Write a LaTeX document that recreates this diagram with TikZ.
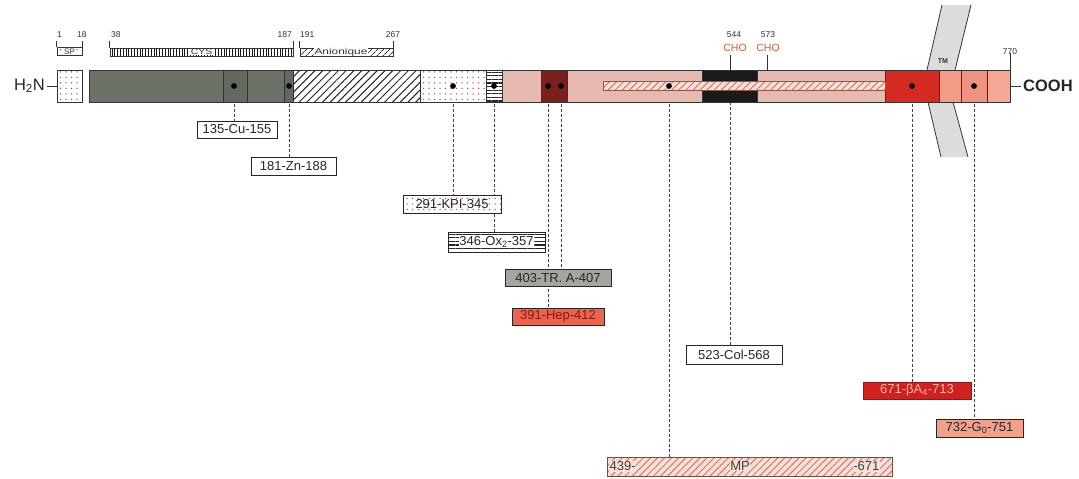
\documentclass[tikz,border=0pt]{standalone}
\usepackage{fontspec}
\setmainfont{Liberation Sans}
\usetikzlibrary{patterns.meta,backgrounds}
\definecolor{segGrey}{HTML}{6C7268}
\definecolor{segGreyD}{HTML}{646960}
\definecolor{segPink}{HTML}{E6B9B1}
\definecolor{segDarkRed}{HTML}{7B1F1C}
\definecolor{segBlack}{HTML}{1A1A1A}
\definecolor{segRed}{HTML}{D42A22}
\definecolor{salmonA}{HTML}{F29C88}
\definecolor{salmonB}{HTML}{EF9282}
\definecolor{salmonC}{HTML}{F5A894}
\definecolor{hepRed}{HTML}{E9634D}
\definecolor{hepText}{HTML}{8B1A10}
\definecolor{betaRed}{HTML}{D02020}
\definecolor{betaText}{HTML}{F5B5A5}
\definecolor{goSalmon}{HTML}{F2A08A}
\definecolor{traGrey}{HTML}{A3A59F}
\definecolor{choRed}{HTML}{D9583E}
\definecolor{mpBg}{HTML}{F8E0D8}
\definecolor{mpLine}{HTML}{D07A66}
\definecolor{tmGrey}{HTML}{DCDCDC}
\definecolor{dotRed}{HTML}{9A5A55}
\begin{document}
\begin{tikzpicture}[x=1pt,y=-1pt,
  seg/.style={draw=black!80, line width=0.7pt, rectangle, inner sep=0pt, outer sep=0pt, minimum height=32pt, anchor=west},
  dotn/.style={circle, fill=black, inner sep=0pt, minimum size=5.8pt},
  conn/.style={draw=black!75, densely dashed, line width=0.75pt},
  tickline/.style={draw=black!80, line width=0.6pt},
  lbl/.style={draw=black!85, line width=0.8pt, rectangle, inner sep=0pt, outer sep=0pt, font=\fontsize{13}{15}\selectfont, text=black!85},
  num/.style={font=\fontsize{8.5}{9}\selectfont, text=black!80, inner sep=0pt},
  hatchpat/.style={pattern={Lines[angle=45,distance=5.5pt,line width=1pt]}, pattern color=black!85},
  dotpat/.style={pattern={Dots[distance=5.5pt,radius=0.75pt]}, pattern color=black!60},
  hstripe/.style={pattern={Lines[angle=0,distance=3.6pt,line width=1.1pt]}, pattern color=black!85},
  vstripe/.style={pattern={Lines[angle=90,distance=2.8pt,line width=0.9pt]}, pattern color=black!90},
  mppat/.style={pattern={Lines[angle=45,distance=5pt,line width=1pt]}, pattern color=mpLine}
]
\useasboundingbox (0,0) rectangle (1079,479);

% ---- transmembrane band (behind the bar)
\fill[tmGrey] (942,5) -- (927,70) -- (928,102) -- (941,157) -- (968,157) -- (953,102) -- (955,70) -- (971,5) -- cycle;
\draw[line width=0.8pt, black!80] (942,5) -- (927,70) -- (928,102) -- (941,157);
\draw[line width=0.8pt, black!80] (971,5) -- (955,70) -- (953,102) -- (968,157);
\node[font=\bfseries\fontsize{7}{8}\selectfont, text=black!80, inner sep=0pt] (tm) at (943,61) {TM};

% ---- main bar segments
\node[seg, preaction={fill=white}, dotpat, minimum width=25pt] (spseg) at (57,86) {};
\node[seg, fill=segGrey, minimum width=134pt] (g1) at (89,86) {};
\node[seg, fill=segGreyD, minimum width=24pt] (g2) at (223,86) {};
\node[seg, fill=segGrey, minimum width=37pt] (g3) at (247,86) {};
\node[seg, fill=segGreyD, minimum width=9pt] (g4) at (284,86) {};
\node[seg, preaction={fill=white}, hatchpat, minimum width=127pt] (an) at (293,86) {};
\node[seg, preaction={fill=white}, dotpat, pattern color=dotRed, minimum width=66pt] (kpi) at (420,86) {};
\node[seg, preaction={fill=white}, hstripe, minimum width=16pt] (ox) at (486,86) {};
\node[seg, fill=segPink, minimum width=39pt] (p1) at (502,86) {};
\node[seg, fill=segDarkRed, minimum width=26pt] (dr) at (541,86) {};
\node[seg, fill=segPink, minimum width=135pt] (p2) at (567,86) {};
\node[seg, fill=segBlack, minimum width=55pt] (bk) at (702,86) {};
\node[seg, fill=segPink, minimum width=128pt] (p3) at (757,86) {};
\node[seg, fill=segRed, minimum width=54pt] (rd) at (885,86) {};
\node[seg, fill=salmonA, minimum width=22pt] (s1) at (939,86) {};
\node[seg, fill=salmonB, minimum width=26pt] (s2) at (961,86) {};
\node[seg, fill=salmonC, minimum width=23pt] (s3) at (987,86) {};
% MP strip inside the bar
\node[seg, minimum height=9pt, minimum width=282pt, draw=mpLine!70!black, line width=0.6pt,
  preaction={fill=mpBg}, mppat] (mpstrip) at (603,85.5) {};

% ---- termini
\node[font=\fontsize{16.5}{18}\selectfont, text=black!85, anchor=east, inner sep=0pt] (h2n) at (45,86) {H\textsubscript{2}N};
\draw[tickline, line width=0.8pt] ([xshift=2pt]h2n.east) -- (spseg.west);
\node[font=\bfseries\fontsize{16.5}{18}\selectfont, text=black!85, anchor=west, inner sep=0pt] (cooh) at (1023,86) {COOH};
\draw[tickline, line width=0.8pt] (s3.east) -- ([xshift=-2pt]cooh.west);

% ---- top annotations
\node[num, anchor=west] (n1) at (57,35) {1};
\node[num, anchor=west] (n18) at (77,35) {18};
\node[draw=black!80, line width=0.6pt, preaction={fill=white}, dotpat, minimum width=25pt, minimum height=8pt, inner sep=0pt] (spbox) at (69.5,51.5) {};
\node[font=\fontsize{8}{8}\selectfont, fill=white, inner sep=0.4pt, text=black!80] at (spbox) {SP};
\draw[tickline] (spbox.north west) -- ++(0,-6);
\draw[tickline] (spbox.north east) -- ++(0,-6);

\node[num, anchor=west] (n38) at (111,35) {38};
\node[draw=black!80, line width=0.6pt, preaction={fill=white}, vstripe, minimum width=183pt, minimum height=8pt, inner sep=0pt] (cys) at (201.5,52) {};
\node[font=\fontsize{8}{8}\selectfont, fill=white, inner xsep=1.5pt, inner ysep=0.5pt, text=black!80] at (cys) {\scalebox{1.3}[1]{CYS}};
\draw[tickline] (cys.north west) -- ++(0,-7);
\draw[tickline] (cys.north east) -- ++(0,-7);
\node[num, anchor=east] (n187) at (292,35) {187};
\node[num, anchor=west] (n191) at (300,35) {191};

\node[draw=black!80, line width=0.6pt, preaction={fill=white}, pattern={Lines[angle=45,distance=4pt,line width=0.8pt]}, pattern color=black!85, minimum width=93pt, minimum height=8pt, inner sep=0pt] (anbox) at (346.5,52) {};
\node[font=\fontsize{8.5}{8}\selectfont, fill=white, inner sep=0.4pt, text=black!80] at (341,52) {\scalebox{1.4}[1]{Anionique}};
\draw[tickline] (anbox.north west) -- ++(0,-7);
\draw[tickline] (anbox.north east) -- ++(0,-7);
\node[num] (n267) at (393,35) {267};

\node[num] (n544) at (734,35) {544};
\node[font=\fontsize{10.5}{12}\selectfont, text=choRed, inner sep=0pt] (cho1) at (735,48) {CHO};
\node[num] (n573) at (768,35) {573};
\node[font=\fontsize{10.5}{12}\selectfont, text=choRed, inner sep=0pt] (cho2) at (768,48) {CHO};
\coordinate (bartop) at (0,70);
\coordinate (barbot) at (0,102);
\coordinate (c1) at (730,55);
\coordinate (c2) at (767,55);
\draw[tickline] (c1) -- (c1 |- bartop);
\draw[tickline] (c2) -- (c2 |- bartop);
\node[num] (n770) at (1010,52) {770};
\draw[tickline] ([yshift=2pt]n770.south) -- (s3.north east);

% ---- dots
\node[dotn] (d1) at (234,86) {};
\node[dotn] (d2) at (289,86) {};
\node[dotn] (d3) at (453,86) {};
\node[dotn] (d4) at (494,86) {};
\node[dotn] (d5) at (548,86) {};
\node[dotn] (d6) at (561,86) {};
\node[dotn] (d7) at (669,86) {};
\node[dotn] (d8) at (912,86) {};
\node[dotn] (d9) at (974,86) {};
\coordinate (colsrc) at (730,102);

% ---- label boxes
\node[lbl, fill=white, minimum width=80pt, minimum height=17pt] (b1) at (237,129.5) {135-Cu-155};
\node[lbl, fill=white, minimum width=85pt, minimum height=18pt] (b2) at (293.5,166) {181-Zn-188};
\node[lbl, preaction={fill=white}, dotpat, pattern color=dotRed, minimum width=98pt, minimum height=18pt] (b3) at (452,204) {};
\node[font=\fontsize{13}{15}\selectfont, text=black!85, inner sep=0.5pt] at (b3) {291-KPI-345};
\node[lbl, preaction={fill=white}, hstripe, minimum width=97pt, minimum height=20pt] (b4) at (496.5,242) {};
\node[font=\fontsize{13}{15}\selectfont, text=black!85, fill=white, inner sep=0.3pt] at (b4) {346-Ox\textsubscript{2}-357};
\node[lbl, fill=traGrey, minimum width=106pt, minimum height=17pt] (b5) at (558,278) {403-TR. A-407};
\node[lbl, fill=hepRed, text=hepText, minimum width=92pt, minimum height=17pt] (b6) at (558,316.5) {391-Hep-412};
\node[lbl, fill=white, minimum width=96pt, minimum height=19pt] (b7) at (734,354.5) {523-Col-568};
\node[lbl, fill=betaRed, text=betaText, draw=betaRed!70!black, minimum width=108pt, minimum height=17pt] (b8) at (917,390.5) {671-βA\textsubscript{4}-713};
\node[lbl, fill=goSalmon, text=black!85, minimum width=87pt, minimum height=18pt] (b9) at (979.5,428) {732-G\textsubscript{0}-751};
\node[lbl, draw=mpLine!60!black, preaction={fill=mpBg}, mppat, minimum width=285pt, minimum height=19pt] (b10) at (749.5,466.5) {};
\node[font=\fontsize{13}{15}\selectfont, text=black!75, fill=mpBg, inner sep=0.5pt, anchor=west] (mpl) at (609,466.5) {439-};
\node[font=\fontsize{13}{15}\selectfont, text=black!75, fill=mpBg, inner sep=0.5pt] (mpc) at (740,466.5) {MP};
\node[font=\fontsize{13}{15}\selectfont, text=black!75, fill=mpBg, inner sep=0.5pt, anchor=east] (mpr) at (880,466.5) {-671};

% ---- connectors (behind everything)
\begin{scope}[on background layer]
\fill[white] (0,0) rectangle (1079,479);
\draw[conn] (d1) -- (d1 |- b1.north);
\draw[conn] (d2) -- (d2 |- b2.north);
\draw[conn] (d3) -- (d3 |- b3.north);
\draw[conn] (d4) -- (d4 |- b4.north);
\draw[conn] (d5) -- (d5 |- b6.north);
\draw[conn] (d6) -- (d6 |- b5.north);
\draw[conn] (d7) -- (d7 |- b10.north);
\draw[conn] (d8) -- (d8 |- b8.north);
\draw[conn] (d9) -- (d9 |- b9.north);
\draw[conn] (colsrc) -- (colsrc |- b7.north);
\end{scope}
\end{tikzpicture}
\end{document}
